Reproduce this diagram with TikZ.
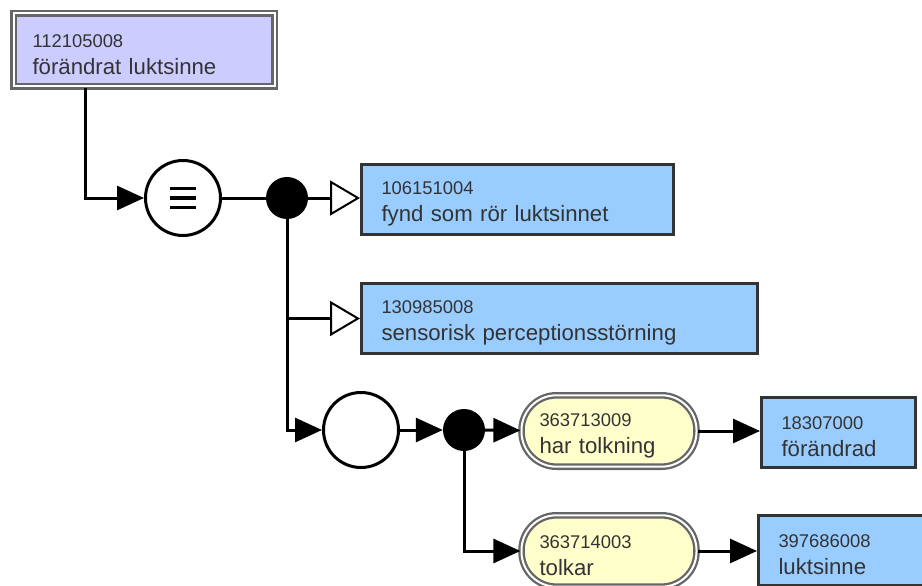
\documentclass[tikz,border=0pt]{standalone}
\usepackage{fontspec}
\setmainfont{Liberation Sans}
\usetikzlibrary{arrows.meta}
\definecolor{defcol}{HTML}{CCCCFF}
\definecolor{primcol}{HTML}{99CCFF}
\definecolor{attrcol}{HTML}{FFFFCC}
\definecolor{txtcol}{HTML}{333333}
% id on the first line, name on the second
\newcommand\cid[2]{\rule{0pt}{22pt}{\fontsize{18.4}{20}\selectfont #1}\\#2}
\tikzset{
  every node/.style={font=\fontsize{22.2}{27}\selectfont, text=txtcol},
  defined/.style={draw=black!60, double=white, line width=2.3pt, double distance=2pt,
    fill=defcol, align=left, inner xsep=19pt, minimum height=73pt, text width=#1},
  primitive/.style={draw=black!80, line width=3pt, fill=primcol, align=left,
    inner xsep=20pt, minimum height=70pt, text width=#1},
  attribute/.style={draw=black!60, double=white, line width=2.3pt, double distance=2pt,
    fill=attrcol, rounded corners=35pt, align=left, inner xsep=18pt,
    minimum height=71.4pt, text width=#1},
  conj/.style={circle, fill=black, minimum size=42pt, inner sep=0pt},
  group/.style={circle, draw, line width=3pt, fill=white, minimum size=75pt, inner sep=0pt},
  link/.style={line width=3pt},
  isa/.style={link, -{Triangle[open, length=30pt, width=35pt, line width=2pt, fill=white]}},
  hasattr/.style={link, -{Triangle[length=27pt, width=24pt]}},
}
\begin{document}
\begin{tikzpicture}[x=1pt,y=-1pt]
  \useasboundingbox (0,0) rectangle (922,586);
  \clip (0,0) rectangle (922,586);
  \draw
    (144,50) node[defined=223pt] (fokus) {\cid{112105008}{förändrat luktsinne}}
    (183,198) node[group] (eq) {}
    (287,198) node[conj] (d1) {}
    (517.5,199.5) node[primitive=272pt] (fynd) {\cid{106151004}{fynd som rör luktsinnet}}
    (559.5,318.5) node[primitive=356pt] (sens) {\cid{130985008}{sensorisk perceptionsstörning}}
    (361,430) node[group] (grp) {}
    (464,430) node[conj] (d2) {}
    (609,431) node[attribute=139pt] (htolk) {\cid{363713009}{har tolkning}}
    (838.5,432) node[primitive=114pt] (forand) {\cid{18307000}{förändrad}}
    (609,551) node[attribute=139pt] (tolkar) {\cid{363714003}{tolkar}}
    (843.5,550) node[primitive=130pt] (lukt) {\cid{397686008}{luktsinne}};
  % equivalence sign
  \foreach \dy in {-9.5,0,9.5}
    \draw[line width=3.5pt] ([xshift=-13pt,yshift=\dy pt]eq.center) -- ++(26,0);
  \begin{scope}
    \draw[hasattr] ([xshift=-59pt]fokus.south) |- (eq);
    \draw[link] (eq) -- (d1);
    \draw[isa] (d1) -- (d1 -| fynd.west);
    \draw[isa] (d1) |- (sens.west);
    \draw[hasattr] (d1) |- (grp);
    \draw[hasattr] (grp) -- (d2);
    \draw[hasattr] (d2) -- (htolk);
    \draw[hasattr] (htolk) -- (htolk -| forand.west);
    \draw[hasattr] (d2) |- (tolkar);
    \draw[hasattr] (tolkar) -- (tolkar -| lukt.west);
  \end{scope}
\end{tikzpicture}
\end{document}
